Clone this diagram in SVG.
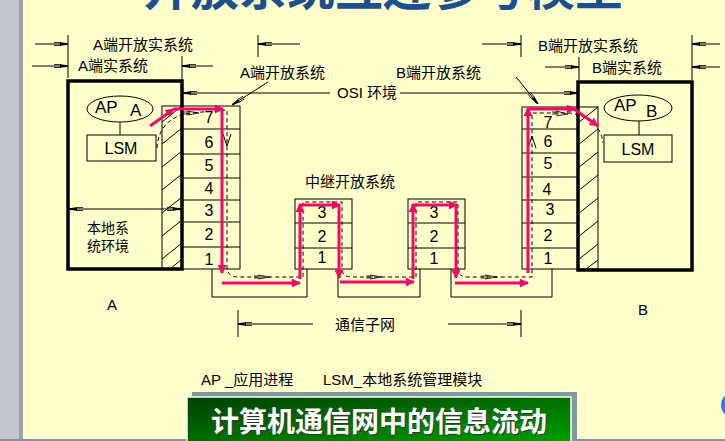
<svg xmlns="http://www.w3.org/2000/svg" width="725" height="441" viewBox="0 0 725 441">
<defs>
<style>
.t{font-family:"Liberation Sans","Noto Sans CJK SC",sans-serif;font-size:15px;fill:#000}
.n{font-family:"Liberation Sans",sans-serif;font-size:16px;fill:#000;text-anchor:middle}
.ln{stroke:#000;stroke-width:1;fill:none}
.thick{stroke:#000;stroke-width:3.5;fill:none}
.red{stroke:#F2086B;stroke-width:3;fill:none;marker-end:url(#ra)}
.dash{stroke:#000;stroke-width:1;fill:none;stroke-dasharray:4 3}
.dim{stroke:#000;stroke-width:1;fill:none;marker-end:url(#da)}
.sym{stroke:#000;stroke-width:0.8;fill:none}
</style>
<marker id="ra" viewBox="0 0 10 10" refX="9" refY="5" markerWidth="10" markerHeight="9" markerUnits="userSpaceOnUse" orient="auto"><path d="M0,0 L10,5 L0,10 Z" fill="#F2086B"/></marker>
<marker id="da" viewBox="0 0 14 6" refX="14" refY="3" markerWidth="14" markerHeight="6" markerUnits="userSpaceOnUse" orient="auto"><path d="M0,1.5 H7 M0,4.5 H7" stroke="#000" stroke-width="0.8" fill="none"/><path d="M6,1.2 L14,2.3 L14,3.7 L6,4.8 Z" fill="#000"/></marker>
<linearGradient id="gg" x1="0" y1="0" x2="1" y2="1"><stop offset="0" stop-color="#003f00"/><stop offset="1" stop-color="#00a000"/></linearGradient>
</defs>
<rect x="0" y="0" width="725" height="441" fill="#FFFFCC"/>
<rect x="0" y="0" width="23" height="441" fill="#C3C6CD"/>
<rect x="19" y="0" width="4" height="441" fill="#9EA2A9"/>
<rect x="0" y="439" width="725" height="2" fill="#8A9096"/>
<circle cx="734" cy="405" r="13" fill="#2A7FF0"/>

<g id="title"><text x="143" y="5" style="font-family:'Noto Sans CJK SC',sans-serif;font-size:48px;font-weight:bold;fill:#1B4F8F" textLength="480">开放系统互连参考模型</text></g>

<g id="system-A">
<ellipse cx="120" cy="109" rx="33" ry="13" class="ln"/>
<text x="95" y="113" class="t" style="font-size:17px">AP</text>
<text x="130" y="116" class="t" style="font-size:17px">A</text>
<line x1="120" y1="122" x2="120" y2="135" class="ln"/>
<rect x="87" y="135" width="69" height="26" class="ln"/>
<text x="121" y="154" class="t" style="font-size:16px;text-anchor:middle">LSM</text>
<text x="87" y="233" class="t" style="font-size:14px">本地系</text>
<text x="87" y="251" class="t" style="font-size:14px">统环境</text>
<rect x="162" y="106" width="20" height="163" class="ln"/>
<path class="ln" d="M162,122 L182,106 M162,144 L182,128 M162,167 L182,151 M162,190 L182,174 M162,213 L182,197 M162,236 L182,220 M162,259 L182,243 M170,269 L182,259"/>
<rect x="182" y="106" width="58" height="163" class="ln"/>
<path class="ln" d="M182,129 H240 M182,154 H240 M182,178 H240 M182,200 H240 M182,222 H240 M182,247 H240"/>
<text x="209" y="123" class="n">7</text>
<text x="209" y="148" class="n">6</text>
<text x="209" y="171" class="n">5</text>
<text x="209" y="194" class="n">4</text>
<text x="209" y="216" class="n">3</text>
<text x="209" y="240" class="n">2</text>
<text x="209" y="265" class="n">1</text>
<rect x="68" y="81" width="114" height="188" class="thick"/>
</g>

<g id="system-B">
<ellipse cx="638" cy="108" rx="34" ry="13" class="ln"/>
<text x="614" y="111" class="t" style="font-size:17px">AP</text>
<text x="646" y="117" class="t" style="font-size:17px">B</text>
<line x1="639" y1="121" x2="639" y2="135" class="ln"/>
<rect x="604" y="135" width="68" height="27" class="ln"/>
<text x="638" y="155" class="t" style="font-size:16px;text-anchor:middle">LSM</text>
<rect x="578" y="107" width="20" height="162" class="ln"/>
<path class="ln" d="M578,123 L598,107 M578,145 L598,129 M578,168 L598,152 M578,191 L598,175 M578,214 L598,198 M578,237 L598,221 M578,260 L598,244 M586,269 L598,260"/>
<rect x="522" y="107" width="56" height="162" class="ln"/>
<path class="ln" d="M522,129 H578 M522,153 H578 M522,177 H578 M522,200 H578 M522,223 H578 M522,248 H578"/>
<text x="548" y="128" class="n">7</text>
<text x="548" y="147" class="n">6</text>
<text x="548" y="169" class="n">5</text>
<text x="547" y="195" class="n">4</text>
<text x="550" y="215" class="n">3</text>
<text x="548" y="241" class="n">2</text>
<text x="548" y="264" class="n">1</text>
<rect x="578" y="82" width="114" height="188" class="thick"/>
</g>

<g id="relay-1">
<rect x="295" y="199" width="57" height="70" class="ln"/>
<path class="ln" d="M295,223 H352 M295,248 H352"/>
<text x="322" y="218" class="n">3</text>
<text x="322" y="242" class="n">2</text>
<text x="322" y="263" class="n">1</text>
</g>
<g id="relay-2">
<rect x="408" y="199" width="57" height="70" class="ln"/>
<path class="ln" d="M408,223 H465 M408,248 H465"/>
<text x="434" y="218" class="n">3</text>
<text x="434" y="242" class="n">2</text>
<text x="434" y="264" class="n">1</text>
</g>
<g id="subnet-1"><path class="ln" d="M212,269 V297 H307 V269"/></g>
<g id="subnet-2"><path class="ln" d="M338,269 V297 H420 V269"/></g>
<g id="subnet-3"><path class="ln" d="M451,269 V297 H552 V269"/></g>

<g id="labels">
<text x="93" y="50" class="t">A端开放实系统</text>
<text x="78" y="71" class="t">A端实系统</text>
<text x="240" y="78" class="t">A端开放系统</text>
<text x="337" y="98" class="t">OSI 环境</text>
<text x="396" y="78" class="t">B端开放系统</text>
<text x="538" y="51" class="t">B端开放实系统</text>
<text x="592" y="73" class="t">B端实系统</text>
<text x="305" y="187" class="t">中继开放系统</text>
<text x="107" y="310" class="t">A</text>
<text x="638" y="315" class="t">B</text>
<text x="335" y="330" class="t">通信子网</text>
</g>

<g id="connectors">
<!-- dimension ticks -->
<path class="ln" d="M68,35 V78 M258,35 V57 M182,56 V80 M521,35 V57 M692,35 V80 M579,57 V80 M238,310 V337 M521,310 V337"/>
<line x1="35" y1="44" x2="68" y2="44" class="dim"/>
<line x1="300" y1="44" x2="258" y2="44" class="dim"/>
<line x1="32" y1="66" x2="68" y2="66" class="dim"/>
<line x1="213" y1="66" x2="182" y2="66" class="dim"/>
<line x1="482" y1="44" x2="521" y2="44" class="dim"/>
<line x1="720" y1="44" x2="692" y2="44" class="dim"/>
<line x1="545" y1="67" x2="579" y2="67" class="dim"/>
<line x1="720" y1="67" x2="692" y2="67" class="dim"/>
<line x1="330" y1="93" x2="183" y2="93" class="dim"/>
<line x1="400" y1="93" x2="578" y2="93" class="dim"/>
<line x1="125" y1="209" x2="69" y2="209" class="dim"/>
<line x1="125" y1="209" x2="181" y2="209" class="dim"/>
<line x1="313" y1="324" x2="238" y2="324" class="dim"/>
<line x1="448" y1="324" x2="521" y2="324" class="dim"/>
<line x1="268" y1="82" x2="232" y2="105" class="dim"/>
<line x1="516" y1="77" x2="538" y2="104" class="dim"/>
<!-- dashed logical flow -->
<path class="dash" d="M157,148 C158,128 170,116 190,113 L227,110 L227,268 Q228,277 238,277 L303,277 L303,202 L342,202 L342,270 Q343,277 352,277 L416,277 L416,202 L458,202 L458,270 Q459,277 468,277 L532,277 L532,113 L570,113 Q600,118 603,143"/>
<path class="sym" d="M187,111 L199,113 L187,115 M183,112 H190 M183,114 H190"/>
<path class="sym" d="M258,275 L270,277 L258,279 M254,276 H261 M254,278 H261"/>
<path class="sym" d="M370,275 L382,277 L370,279 M366,276 H373 M366,278 H373"/>
<path class="sym" d="M485,275 L497,277 L485,279 M481,276 H488 M481,278 H488"/>
<path class="sym" d="M556,111 L568,114 L556,116 M552,112 H559 M552,114 H559"/>
<path class="ln" d="M223,134 L227,146 L231,134"/>
<path class="ln" d="M528,148 L532,136 L536,148"/>
<!-- physical data flow -->
<line x1="150" y1="126" x2="174" y2="109" class="red"/>
<line x1="174" y1="109" x2="223" y2="109" class="red"/>
<line x1="222" y1="109" x2="222" y2="273" class="red"/>
<line x1="222" y1="283" x2="300" y2="283" class="red"/>
<line x1="300" y1="279" x2="300" y2="204" class="red"/>
<line x1="300" y1="205" x2="340" y2="205" class="red"/>
<line x1="339" y1="205" x2="339" y2="278" class="red"/>
<line x1="340" y1="282" x2="414" y2="282" class="red"/>
<line x1="413" y1="279" x2="413" y2="204" class="red"/>
<line x1="413" y1="205" x2="457" y2="205" class="red"/>
<line x1="456" y1="205" x2="456" y2="278" class="red"/>
<line x1="455" y1="283" x2="528" y2="283" class="red"/>
<line x1="528" y1="273" x2="528" y2="108" class="red"/>
<line x1="528" y1="109" x2="575" y2="109" class="red"/>
<line x1="574" y1="109" x2="598" y2="126" class="red"/>
</g>

<g id="legend">
<text x="201" y="385" class="t">AP _应用进程</text>
<text x="323" y="385" class="t">LSM_本地系统管理模块</text>
</g>

<g id="banner">
<rect x="192" y="392" width="385" height="50" fill="#7F9A9E"/>
<rect x="187" y="397" width="384" height="46" fill="url(#gg)" stroke="#FFFFFF" stroke-width="1.5"/>
<text x="380" y="433" text-anchor="middle" style="font-family:'Noto Sans CJK SC',sans-serif;font-size:28px;font-weight:bold;fill:#333">计算机通信网中的信息流动</text>
<text x="379" y="432" text-anchor="middle" style="font-family:'Noto Sans CJK SC',sans-serif;font-size:28px;font-weight:bold;fill:#FFFFFF">计算机通信网中的信息流动</text>
</g>
</svg>
